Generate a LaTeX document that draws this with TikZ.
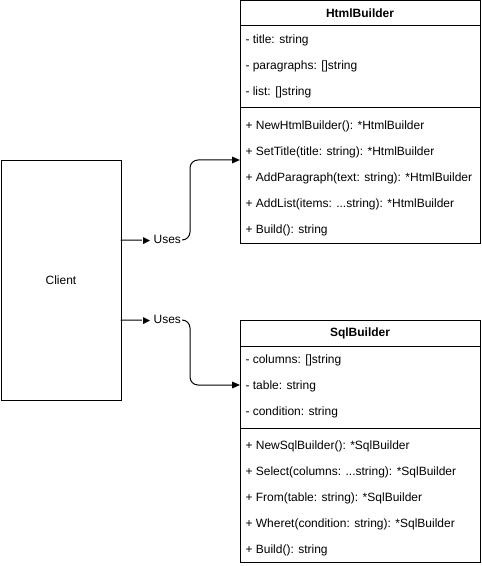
\documentclass[tikz,border=0pt]{standalone}
\usepackage{fontspec}
\setmainfont{Liberation Sans}
\newfontfamily\symfont{DejaVu Sans}
\usetikzlibrary{arrows.meta}
\newcommand{\threedots}{...}

\begin{document}
\begin{tikzpicture}[x=0.75pt,y=-0.75pt,font=\fontsize{9}{11}\selectfont,line width=0.75pt]
	\tikzset{>={Triangle[length=6pt,width=5pt]}}
	\tikzset{box/.style={draw,inner sep=0pt,anchor=north west}}
	\tikzset{row/.style={anchor=west,inner sep=0pt}}
	\tikzset{uses/.style={->,rounded corners=6pt}}
	\tikzset{lbl/.style={fill=white,inner sep=1pt}}
	\useasboundingbox (0,0) rectangle (481,566);
	
	% client
	\node[box,minimum width=90pt,minimum height=180pt] (client) at (0.5,160) {};
	\node (clienttext) at (client.center) {Client};
	
	% HtmlBuilder
	\node[box,minimum width=180pt,minimum height=181.5pt] (html) at (240,0.5) {};
	\node[font=\fontsize{9}{11}\selectfont\bfseries] (htmltitle) at (360,13) {HtmlBuilder};
	\draw (240,26) -- (480,26);
	\draw (240,108) -- (480,108);
	\foreach \t [count=\i] in {{- title: string},{- paragraphs: []string},{- list: []string}}
	\node[row] (hattr\i) at (245,14.5+26*\i) {\t};
	\foreach \t [count=\i] in {{+ NewHtmlBuilder(): *HtmlBuilder},{+ SetTitle(title: string): *HtmlBuilder},{+ AddParagraph(text: string): *HtmlBuilder},{+ AddList(items: \threedots string): *HtmlBuilder},{+ Build(): string}}
	\node[row] (hmeth\i) at (245,100.5+26*\i) {\t};
	
	% SqlBuilder
	\node[box,minimum width=180pt,minimum height=181.5pt] (sql) at (240,320) {};
	\node[font=\fontsize{9}{11}\selectfont\bfseries] (sqltitle) at (360,333) {SqlBuilder};
	\draw (240,346) -- (480,346);
	\draw (240,428) -- (480,428);
	\foreach \t [count=\i] in {{- columns: []string},{- table: string},{- condition: string}}
	\node[row] (sattr\i) at (245,334.5+26*\i) {\t};
	\foreach \t [count=\i] in {{+ NewSqlBuilder(): *SqlBuilder},{+ Select(columns: \threedots string): *SqlBuilder},{+ From(table: string): *SqlBuilder},{+ Wheret(condition: string): *SqlBuilder},{+ Build(): string}}
	\node[row] (smeth\i) at (245,420.5+26*\i) {\t};
	
	% uses
	\coordinate (u1) at (120.5,240);
	\coordinate (u2) at (120.5,320);
	\coordinate (h1) at (240,160);
	\coordinate (s1) at (240,385);
	
	\draw[uses] (u1) -- (190,240) -- (190,160) -- (h1);
	\draw[uses] (u2) -- (190,320) -- (190,385) -- (s1);
	
	\node[lbl] (lbl1) at (162,240) {{\symfont\fontsize{7}{8}\selectfont ▶} Uses};
	\node[lbl] (lbl2) at (162,320) {{\symfont\fontsize{7}{8}\selectfont ▶} Uses};
	
\end{tikzpicture}
\end{document}
